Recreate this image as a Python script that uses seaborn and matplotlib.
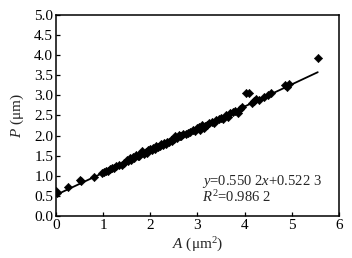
import numpy as np
import pandas as pd
import matplotlib
matplotlib.use("Agg")
import matplotlib.pyplot as plt
import seaborn as sns

area = [0.00, 0.02, 0.25, 0.50, 0.53, 0.80, 0.98, 1.02, 1.06, 1.10, 1.14, 1.18,
        1.22, 1.28, 1.33, 1.40, 1.45, 1.50, 1.53, 1.57, 1.60, 1.63, 1.66, 1.70,
        1.73, 1.76, 1.80, 1.83, 1.86, 1.90, 1.93, 1.96, 2.00, 2.03, 2.06, 2.10,
        2.13, 2.16, 2.20, 2.23, 2.26, 2.30, 2.33, 2.36, 2.40, 2.43, 2.46, 2.50,
        2.53, 2.56, 2.60, 2.63, 2.66, 2.70, 2.75, 2.80, 2.85, 2.90, 2.95, 3.00,
        3.03, 3.06, 3.10, 3.13, 3.16, 3.20, 3.25, 3.30, 3.35, 3.40, 3.45, 3.50,
        3.55, 3.60, 3.65, 3.70, 3.75, 3.80, 3.86, 3.90, 3.95, 4.02, 4.10, 4.15,
        4.20, 4.25, 4.30, 4.40, 4.50, 4.55, 4.85, 4.90, 4.95, 5.55]
perimeter = [0.62, 0.58, 0.72, 0.90, 0.86, 0.98, 1.06, 1.10, 1.12, 1.13, 1.17, 1.20,
             1.19, 1.24, 1.26, 1.27, 1.32, 1.40, 1.36, 1.43, 1.40, 1.46, 1.43, 1.52,
             1.48, 1.50, 1.56, 1.62, 1.55, 1.60, 1.57, 1.64, 1.66, 1.63, 1.70, 1.67,
             1.73, 1.72, 1.74, 1.79, 1.76, 1.82, 1.80, 1.85, 1.83, 1.88, 1.86, 1.92,
             2.00, 1.95, 2.02, 1.98, 2.00, 2.03, 2.05, 2.06, 2.10, 2.14, 2.12, 2.18,
             2.22, 2.15, 2.26, 2.20, 2.24, 2.27, 2.30, 2.34, 2.32, 2.38, 2.42, 2.44,
             2.40, 2.50, 2.47, 2.56, 2.58, 2.62, 2.56, 2.66, 2.70, 3.05, 3.05, 2.80,
             2.86, 2.90, 2.88, 2.95, 3.00, 3.05, 3.26, 3.22, 3.28, 3.93]

slope = 0.5502
intercept = 0.5223
fit_x = [0.0, 5.55]

df = pd.DataFrame({"A": area, "P": perimeter})
fit = pd.DataFrame({"A": fit_x, "P": [slope * v + intercept for v in fit_x]})

sns.set_style("ticks")
plt.rcParams["font.family"] = ["Liberation Serif", "DejaVu Serif"]
plt.rcParams["mathtext.fontset"] = "custom"
plt.rcParams["mathtext.rm"] = "Liberation Serif"
plt.rcParams["mathtext.it"] = "Liberation Serif:italic"

fs = 11
fig = plt.figure(figsize=(3.52, 2.58), dpi=100)
ax = fig.add_axes([0.159, 0.163, 0.804, 0.779])

sns.lineplot(data=fit, x="A", y="P", color="black", linewidth=1.3, ax=ax)
sns.scatterplot(data=df, x="A", y="P", marker="D", s=18, color="black",
                edgecolor="black", linewidth=0.4, ax=ax, zorder=3)

ax.set_xlim(0, 6)
ax.set_ylim(0, 5)
ax.set_xticks(range(0, 7))
ax.set_yticks(np.arange(0, 5.01, 0.5))
ax.set_yticklabels([f"{v:.1f}" for v in np.arange(0, 5.01, 0.5)])
ax.tick_params(direction="in", length=3, width=0.9, labelsize=fs, pad=2,
               colors="black")
for sp in ax.spines.values():
    sp.set_visible(True)
    sp.set_linewidth(1.1)
    sp.set_color("black")

ax.set_xlabel(r"$A$ (μm$^2$)", fontsize=fs, labelpad=3)
ax.set_ylabel(r"$P$ (μm)", fontsize=fs, labelpad=6)

ax.text(3.1, 0.85, r"$y$=0.550 2$x$+0.522 3", fontsize=10.5, va="center")
ax.text(3.1, 0.47, r"$R^2$=0.986 2", fontsize=10.5, va="center")

fig.savefig("out.png", dpi=100)
